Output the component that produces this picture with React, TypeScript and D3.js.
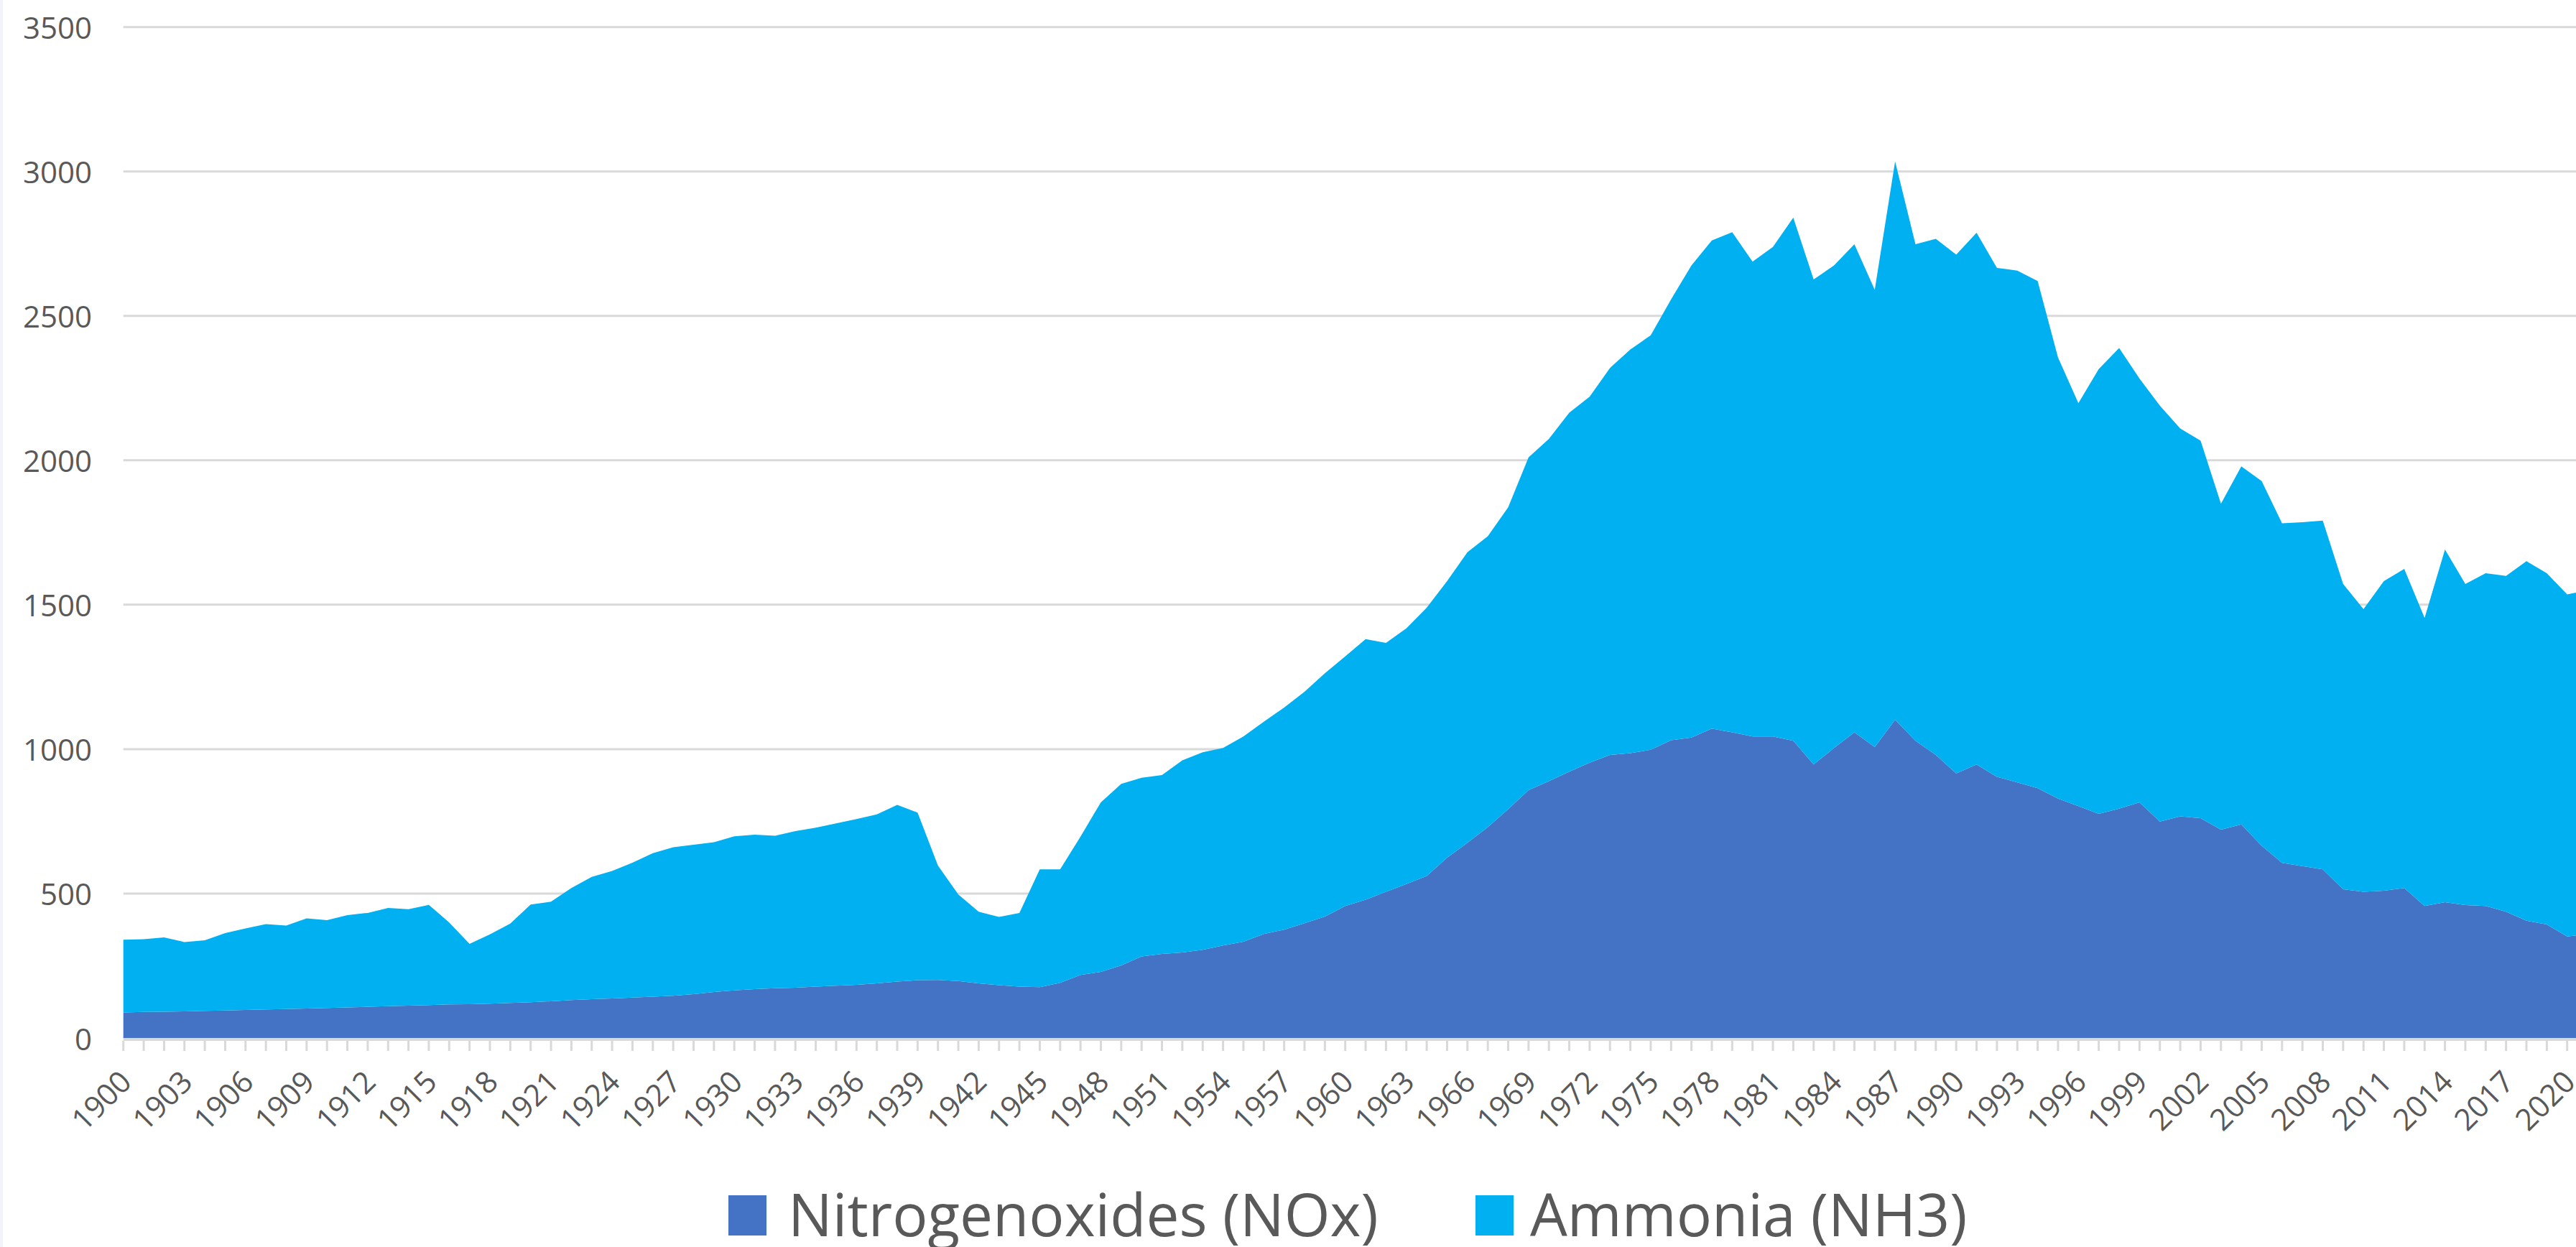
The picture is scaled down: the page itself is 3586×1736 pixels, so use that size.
import React from "react";
import * as d3 from "d3";

const years: number[] = d3.range(1900, 2022);

const noxValues: number[] = [
  88, 90, 91, 92, 94, 95, 97, 99, 100, 102,
  104, 106, 108, 110, 112, 114, 116, 117, 119, 121,
  124, 127, 131, 134, 137, 140, 143, 146, 152, 159,
  165, 169, 172, 174, 178, 181, 184, 189, 195, 200,
  201, 197, 189, 183, 178, 176, 191, 218, 229, 251,
  282, 291, 296, 305, 320, 333, 360, 375, 397, 420,
  457, 479, 506, 533, 561, 624, 676, 730, 792, 858,
  889, 922, 953, 980, 986, 998, 1031, 1040, 1071, 1058,
  1044, 1044, 1029, 947, 1004, 1058, 1007, 1102, 1029, 980,
  916, 947, 904, 885, 865, 829, 803, 776, 794, 816,
  749, 767, 761, 721, 739, 665, 606, 595, 584, 515,
  506, 510, 519, 457, 470, 460, 457, 437, 406, 393,
  351, 360,
];

const nh3Values: number[] = [
  252, 252, 257, 240, 244, 268, 282, 295, 289, 312,
  304, 319, 325, 340, 334, 347, 284, 209, 240, 275,
  338, 345, 388, 424, 441, 467, 497, 514, 517, 519,
  533, 535, 528, 542, 550, 562, 574, 585, 612, 580,
  396, 300, 248, 236, 255, 408, 393, 479, 587, 629,
  619, 619, 665, 684, 684, 711, 735, 769, 802, 843,
  864, 902, 862, 885, 929, 958, 1006, 1007, 1045, 1152,
  1185, 1243, 1267, 1340, 1398, 1435, 1526, 1635, 1690, 1732,
  1644, 1695, 1811, 1679, 1671, 1690, 1583, 1933, 1719, 1787,
  1796, 1841, 1762, 1772, 1756, 1527, 1395, 1540, 1595, 1467,
  1440, 1343, 1307, 1129, 1240, 1263, 1176, 1191, 1207, 1057,
  979, 1072, 1105, 997, 1221, 1112, 1152, 1163, 1245, 1216,
  1185, 1190,
];

const seriesKeys = ["nox", "nh3"];
const seriesNames = ["Nitrogenoxides (NOx)", "Ammonia (NH3)"];
const seriesColors = ["#4472C4", "#00B0F0"];

const yTicks: number[] = [0, 500, 1000, 1500, 2000, 2500, 3000, 3500];
const xLabelYears: number[] = d3.range(1900, 2021, 3);

const W = 3586;
const H = 1736;
const FONT = "'Open Sans', 'Noto Sans', sans-serif";
const TEXT = "#595959";
const GRID = "#D9D9D9";

export default function App() {
  const x = d3
    .scaleLinear()
    .domain([1900, 2021])
    .range([171.7, 171.7 + 121 * 28.35]);
  const y = d3.scaleLinear().domain([0, 3500]).range([1445, 37.7]);

  const table = years.map((yr, i) => ({
    year: yr,
    nox: noxValues[i],
    nh3: nh3Values[i],
  }));
  const stacked = d3.stack<any>().keys(seriesKeys)(table);
  const area = d3
    .area<any>()
    .x((d) => x(d.data.year))
    .y0((d) => y(d[0]))
    .y1((d) => y(d[1]));

  const plotLeft = x(1900);

  const legendItems = [
    { sq: 1014, tx: 1097 },
    { sq: 2054, tx: 2130 },
  ];

  return (
    <svg
      width={W}
      height={H}
      style={{ position: "absolute", left: 0, top: 0, background: "#fff" }}
    >
      <rect x={0} y={0} width={W} height={H} fill="#ffffff" />
      <rect x={0} y={0} width={4} height={H} fill="#F2F4F9" />
      {yTicks.map((t) => (
        <line
          key={"g" + t}
          x1={plotLeft}
          x2={W}
          y1={y(t)}
          y2={y(t)}
          stroke={GRID}
          strokeWidth={3}
        />
      ))}
      {stacked.map((s, i) => (
        <path key={s.key} d={area(s) || ""} fill={seriesColors[i]} />
      ))}
      <line
        x1={plotLeft}
        x2={W}
        y1={y(0) + 2}
        y2={y(0) + 2}
        stroke={GRID}
        strokeWidth={4}
      />
      {years.map((yr) => (
        <line
          key={"t" + yr}
          x1={x(yr)}
          x2={x(yr)}
          y1={y(0) + 4}
          y2={y(0) + 18}
          stroke={GRID}
          strokeWidth={3}
        />
      ))}
      {yTicks.map((t) => (
        <text
          key={"yl" + t}
          x={128}
          y={y(t)}
          textAnchor="end"
          dominantBaseline="central"
          fontFamily={FONT}
          fontSize={42}
          fill={TEXT}
        >
          {t}
        </text>
      ))}
      {xLabelYears.map((yr) => (
        <text
          key={"xl" + yr}
          transform={`translate(${x(yr) + 2},1497) rotate(-45)`}
          textAnchor="end"
          dominantBaseline="central"
          fontFamily={FONT}
          fontSize={42}
          fill={TEXT}
        >
          {yr}
        </text>
      ))}
      {legendItems.map((it, i) => (
        <g key={"lg" + i}>
          <rect
            x={it.sq}
            y={1664}
            width={53}
            height={56}
            fill={seriesColors[i]}
          />
          <text
            x={it.tx}
            y={1721}
            fontFamily={FONT}
            fontSize={82}
            fill={TEXT}
          >
            {seriesNames[i]}
          </text>
        </g>
      ))}
    </svg>
  );
}
